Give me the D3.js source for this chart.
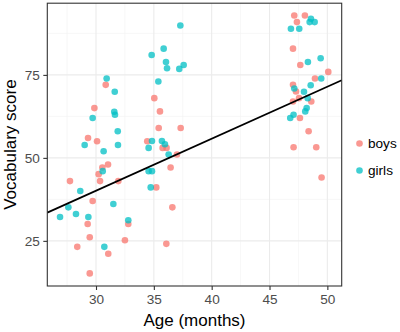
<!DOCTYPE html>
<html>
<head>
<meta charset="utf-8">
<script src="https://cdn.jsdelivr.net/npm/d3@7"></script>
<style>
  body { margin: 0; background: #fff; }
  text { font-family: "Liberation Sans", Arial, sans-serif; }
</style>
</head>
<body>
<div class="container"></div>
<script>
const WIDTH = 400;
const HEIGHT = 332;
const LEFT = 47.3, RIGHT = 341.7, TOP = 3.2, BOTTOM = 286;

// boys (age in months, vocabulary score)
var boysAge = [30.84, 29.86, 29.31, 30.09, 35.04, 35.53, 35.42, 37.32, 34.43, 35.76, 36.1, 37.0,
    36.45, 30.55, 31.04, 30.23, 30.35, 27.75, 31.93, 35.21, 29.71, 36.6, 29.28, 32.79, 29.46,
    32.5, 36.08, 28.38, 31.06, 29.46,
    47.14, 48.06, 47.37, 47.03, 47.66, 50.08, 48.93, 47.03, 47.29, 47.55, 47.03, 48.61, 47.63,
    48.38, 47.08, 49.04, 49.5];
var boysScore = [72, 65, 56, 55, 68, 64, 59, 59, 55, 53, 53, 51,
    47.1, 47.1, 48, 45.1, 43, 43, 43, 41.1, 37, 35.1, 30.1, 30.1, 26.1,
    25.2, 24.1, 23.2, 21.1, 15.2,
    92.9, 92.9, 90.9, 82.9, 78, 75.9, 73.9, 72, 70, 68, 67, 67, 62,
    58, 53.2, 53.2, 44.1];

// girls
var girlsAge = [37.29, 35.85, 34.81, 36.05, 36.14, 37.2, 37.58, 35.39, 30.92, 31.62, 29.71, 31.58,
    31.64, 31.88, 29.02, 31.9, 30.66, 34.84, 34.55, 35.7, 35.96, 36.28, 30.58, 34.55, 34.84,
    34.73, 28.64, 31.5, 27.61, 26.89, 28.27, 29.34, 32.79, 30.72,
    48.58, 48.47, 48.9, 46.85, 47.57, 48.32, 49.42, 49.47, 48.56, 47.14, 47.98, 48.3, 48.21,
    48.09, 47.08, 46.79];
var girlsScore = [89.9, 82.9, 81, 78.9, 77, 76.8, 78, 73, 73.9, 69.9, 62, 63.9,
    63, 58, 53.9, 53.9, 52, 55.1, 53, 55.1, 54.1, 51, 46, 46, 46,
    41.1, 40, 36.1, 35.1, 32.2, 33.1, 32.2, 31.2, 23.2,
    91.9, 90.9, 90.9, 88.9, 88.9, 78.9, 80, 73.9, 71.9, 70.9, 69.9, 68, 65,
    64, 63, 62];

// fitted line (age -> score) at the panel edges
var fitAge = [25.79, 51.24];
var fitScore = [33.5, 73.4];

var xTicks = [30, 35, 40, 45, 50];
var yTicks = [25, 50, 75];
var xMinor = [27.5, 32.5, 37.5, 42.5, 47.5];
var yMinor = [37.5, 62.5, 87.5];
var groups = ["boys", "girls"];
var colours = ["#F8766D", "#00BFC4"];

var svg = d3.select('.container').append('svg')
    .attr('width', WIDTH)
    .attr('height', HEIGHT);

var xScale = d3.scaleLinear().domain([25.79, 51.24]).range([LEFT, RIGHT]);
var yScale = d3.scaleLinear().domain([11.4, 96.6]).range([BOTTOM, TOP]);

// grid
var grid = svg.append('g');
grid.selectAll('.xminor').data(xMinor).enter().append('line')
    .attr('x1', xScale).attr('x2', xScale).attr('y1', TOP).attr('y2', BOTTOM)
    .attr('stroke', '#F2F2F2').attr('stroke-width', 0.6);
grid.selectAll('.yminor').data(yMinor).enter().append('line')
    .attr('y1', yScale).attr('y2', yScale).attr('x1', LEFT).attr('x2', RIGHT)
    .attr('stroke', '#F2F2F2').attr('stroke-width', 0.6);
grid.selectAll('.xmajor').data(xTicks).enter().append('line')
    .attr('x1', xScale).attr('x2', xScale).attr('y1', TOP).attr('y2', BOTTOM)
    .attr('stroke', '#EBEBEB').attr('stroke-width', 1.1);
grid.selectAll('.ymajor').data(yTicks).enter().append('line')
    .attr('y1', yScale).attr('y2', yScale).attr('x1', LEFT).attr('x2', RIGHT)
    .attr('stroke', '#EBEBEB').attr('stroke-width', 1.1);

// points
var pts = svg.append('g');
pts.selectAll('.boy').data(d3.zip(boysAge, boysScore)).enter().append('circle')
    .attr('cx', function(d){ return xScale(d[0]); })
    .attr('cy', function(d){ return yScale(d[1]); })
    .attr('r', 3.3)
    .attr('fill', colours[0]).attr('fill-opacity', 0.75);
pts.selectAll('.girl').data(d3.zip(girlsAge, girlsScore)).enter().append('circle')
    .attr('cx', function(d){ return xScale(d[0]); })
    .attr('cy', function(d){ return yScale(d[1]); })
    .attr('r', 3.3)
    .attr('fill', colours[1]).attr('fill-opacity', 0.75);

// regression line
var line = d3.line()
    .x(function(d){ return xScale(d[0]); })
    .y(function(d){ return yScale(d[1]); });
svg.append('path')
    .attr('d', line(d3.zip(fitAge, fitScore)))
    .attr('fill', 'none').attr('stroke', '#000').attr('stroke-width', 1.7);

// panel border
svg.append('rect')
    .attr('x', LEFT).attr('y', TOP)
    .attr('width', RIGHT - LEFT).attr('height', BOTTOM - TOP)
    .attr('fill', 'none').attr('stroke', '#333333').attr('stroke-width', 1.1);

// axes
var xAxis = d3.axisBottom(xScale).tickValues(xTicks).tickSize(4).tickPadding(4.5);
var yAxis = d3.axisLeft(yScale).tickValues(yTicks).tickSize(4).tickPadding(3.5);

var gx = svg.append('g')
    .attr('transform', 'translate(0,' + BOTTOM + ')')
    .call(xAxis);
var gy = svg.append('g')
    .attr('transform', 'translate(' + LEFT + ',0)')
    .call(yAxis);
[gx, gy].forEach(function(g) {
    g.select('.domain').remove();
    g.selectAll('.tick line').attr('stroke', '#333333').attr('stroke-width', 1.1);
    g.selectAll('.tick text')
        .attr('fill', '#4D4D4D')
        .style('font-size', '13.6px')
        .style('font-family', '"Liberation Sans", Arial, sans-serif');
});

// axis titles
svg.append('text')
    .attr('x', (LEFT + RIGHT) / 2).attr('y', 325.5)
    .attr('text-anchor', 'middle')
    .style('font-size', '17px')
    .text('Age (months)');
svg.append('text')
    .attr('transform', 'translate(15.5,' + ((TOP + BOTTOM) / 2) + ') rotate(-90)')
    .attr('text-anchor', 'middle')
    .style('font-size', '17px')
    .text('Vocabulary score');

// legend
var legend = svg.append('g').selectAll('g').data(groups).enter().append('g')
    .attr('transform', function(d, i){ return 'translate(359.5,' + (143.5 + i * 27) + ')'; });
legend.append('circle')
    .attr('r', 3.3)
    .attr('fill', function(d, i){ return colours[i]; })
    .attr('fill-opacity', 0.75);
legend.append('text')
    .attr('x', 8.5).attr('y', 4.8)
    .style('font-size', '13.6px')
    .text(function(d){ return d; });
</script>
</body>
</html>
